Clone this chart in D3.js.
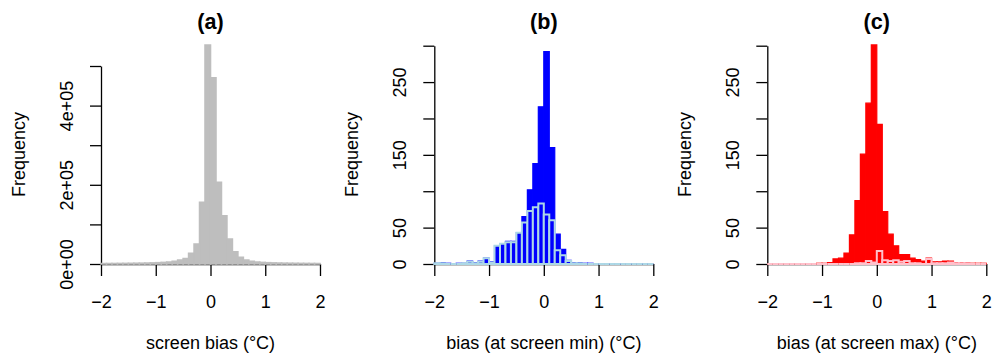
<!DOCTYPE html>
<html>
<head>
<meta charset="utf-8">
<script src="https://cdn.jsdelivr.net/npm/d3@7"></script>
<style>
  body { margin: 0; background: #fff; }
  svg { display: block; font-family: "Liberation Sans", Arial, sans-serif; }
</style>
</head>
<body>
<svg id="chart" width="992" height="363"></svg>
<script>
// bin edges (°C), shared by all three histograms
const binEdges = [-2.0, -1.9, -1.8, -1.7, -1.6, -1.5, -1.4, -1.3, -1.2, -1.1,
  -1.0, -0.9, -0.8, -0.7, -0.6, -0.5, -0.4, -0.3, -0.2, -0.1,
  0.0, 0.1, 0.2, 0.3, 0.4, 0.5, 0.6, 0.7, 0.8, 0.9,
  1.0, 1.1, 1.2, 1.3, 1.4, 1.5, 1.6, 1.7, 1.8, 1.9, 2.0];

// (a) screen bias counts
const screenCounts = [1100, 1200, 1300, 1400, 1500, 1700, 1900, 2100, 2400, 2800,
  3300, 4000, 5000, 6700, 10000, 14000, 27000, 50500, 156000, 553000,
  470000, 206000, 122000, 63000, 31000, 17000, 10000, 6700, 5000, 4000,
  3300, 2800, 2400, 2100, 1900, 1700, 1500, 1400, 1300, 1200];

// (b) bias at screen min: all stations, and the subset drawn on top
const minAllCounts = [1, 2, 1, 0, 1, 1, 4, 2, 4, 8,
  3, 25, 28, 31, 31, 43, 65, 102, 138, 216,
  292, 160, 41, 20, 5, 2, 2, 1, 1, 0,
  0, 0, 0, 0, 0, 0, 0, 0, 0, 0];
const minSubsetCounts = [1, 1, 0, 0, 0, 1, 3, 1, 3, 8,
  2, 25, 28, 30, 30, 43, 57, 73, 78, 83,
  68, 60, 19, 12, 4, 1, 1, 0, 0, 0,
  0, 0, 0, 0, 0, 0, 0, 0, 0, 0];

// (c) bias at screen max
const maxAllCounts = [0, 0, 0, 0, 0, 0, 0, 0, 0, 1,
  1, 2, 7, 8, 15, 40, 87, 151, 221, 301,
  192, 72, 41, 25, 13, 13, 8, 6, 4, 8,
  3, 3, 4, 4, 2, 2, 2, 1, 1, 1];
const maxSubsetCounts = [0, 0, 0, 0, 0, 0, 0, 0, 0, 0,
  0, 0, 0, 0, 0, 0, 1, 1, 4, 2,
  18, 5, 4, 5, 3, 4, 1, 1, 0, 7,
  1, 1, 1, 2, 1, 1, 1, 0, 0, 0];

const panelTitles = ["(a)", "(b)", "(c)"];
const xLabels = ["screen bias (°C)", "bias (at screen min) (°C)", "bias (at screen max) (°C)"];
const xTicks = [-2, -1, 0, 1, 2];
const yTicksA = [0, 100000, 200000, 300000, 400000, 500000];
const yLabelsA = { 0: "0e+00", 200000: "2e+05", 400000: "4e+05" };
const yTicksBC = [0, 50, 100, 150, 200, 250, 300];
const yLabelsBC = { 0: "0", 50: "50", 150: "150", 250: "250" };

const panels = [
  { title: panelTitles[0], xlab: xLabels[0], left: 101, yMax: 500000, yTop: 66,
    yTicks: yTicksA, yLabels: yLabelsA,
    layers: [{ counts: screenCounts, fill: "#BEBEBE", stroke: "#BEBEBE", width: 1.6 }] },
  { title: panelTitles[1], xlab: xLabels[1], left: 434.3, yMax: 300, yTop: 45.7,
    yTicks: yTicksBC, yLabels: yLabelsBC,
    layers: [{ counts: minAllCounts, fill: "#0000FF", stroke: "#0000FF", width: 1.2 },
             { counts: minSubsetCounts, fill: "#0000FF", stroke: "#ADD8E6", width: 2 }] },
  { title: panelTitles[2], xlab: xLabels[2], left: 767.3, yMax: 300, yTop: 45.7,
    yTicks: yTicksBC, yLabels: yLabelsBC,
    layers: [{ counts: maxAllCounts, fill: "#FF0000", stroke: "#FF0000", width: 1.2 },
             { counts: maxSubsetCounts, fill: "#FF0000", stroke: "#FFC0CB", width: 2 }] }
];

const svg = d3.select("#chart");
const plotW = 219;
const baseY = 264;
const fmtX = d => (d < 0 ? "\u2212" + Math.abs(d) : String(d));

panels.forEach(p => {
  const g = svg.append("g");
  const x = d3.scaleLinear().domain([-2, 2]).range([p.left, p.left + plotW]);
  const y = d3.scaleLinear().domain([0, p.yMax]).range([baseY, p.yTop]);

  // x axis
  const xa = g.append("g")
    .attr("transform", `translate(0,${baseY})`)
    .call(d3.axisBottom(x).tickValues(xTicks).tickSize(12).tickSizeOuter(0).tickFormat(fmtX));
  xa.selectAll("text").attr("y", 44).attr("dy", 0);

  // y axis
  const ya = g.append("g")
    .attr("transform", `translate(${p.left},0)`)
    .call(d3.axisLeft(y).tickValues(p.yTicks).tickSize(11).tickSizeOuter(0)
      .tickFormat(d => p.yLabels[d] || ""));
  ya.selectAll("text")
    .attr("x", 0).attr("y", -28).attr("dy", 0)
    .attr("transform", "rotate(-90)")
    .attr("text-anchor", "middle");

  [xa, ya].forEach(a => {
    a.attr("font-size", 18).attr("font-family", null);
    a.selectAll("path, line").attr("stroke", "#000").attr("stroke-width", 1.3);
    a.selectAll("text").attr("fill", "#000");
  });

  // histogram bars on top of the axes, as paths so empty bins still draw their baseline
  p.layers.forEach(layer => {
    const bins = layer.counts.map((c, i) => ({ x0: binEdges[i], x1: binEdges[i + 1], c }));
    g.append("g").selectAll("path")
      .data(bins)
      .join("path")
      .attr("d", d => `M${x(d.x0)},${y(0)}V${y(d.c)}H${x(d.x1)}V${y(0)}Z`)
      .attr("fill", layer.fill)
      .attr("stroke", layer.stroke)
      .attr("stroke-width", layer.width)
      .attr("stroke-linejoin", "miter");
  });

  // titles and labels
  const cx = p.left + plotW / 2;
  g.append("text")
    .attr("x", cx).attr("y", 29)
    .attr("text-anchor", "middle")
    .attr("font-size", 21.6).attr("font-weight", "bold")
    .text(p.title);

  g.append("text")
    .attr("x", cx).attr("y", 349)
    .attr("text-anchor", "middle")
    .attr("font-size", 18)
    .text(p.xlab);

  g.append("text")
    .attr("transform", `translate(${p.left - 76},${(baseY + 45) / 2}) rotate(-90)`)
    .attr("text-anchor", "middle")
    .attr("font-size", 18)
    .text("Frequency");
});
</script>
</body>
</html>
